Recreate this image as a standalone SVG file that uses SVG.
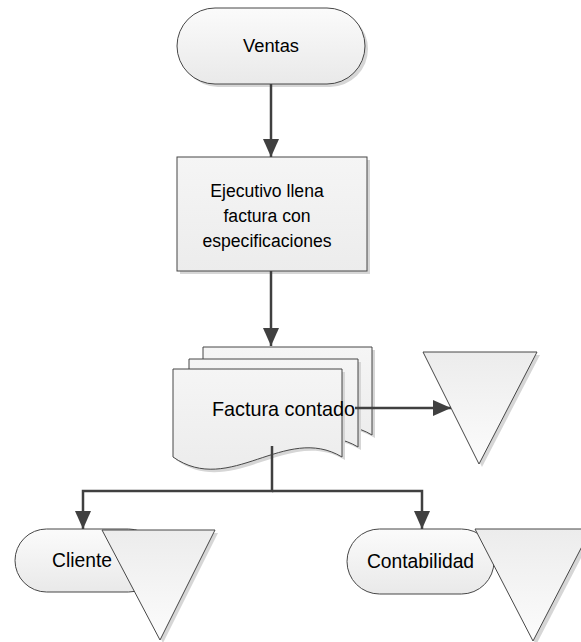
<svg xmlns="http://www.w3.org/2000/svg" width="581" height="642" viewBox="0 0 581 642">
  <defs>
    <linearGradient id="gTerm" x1="0" y1="0" x2="0" y2="1">
      <stop offset="0" stop-color="#fbfbfb"/>
      <stop offset="1" stop-color="#e9e9e9"/>
    </linearGradient>
    <linearGradient id="gTri" x1="0" y1="0" x2="0" y2="1">
      <stop offset="0" stop-color="#ececec"/>
      <stop offset="1" stop-color="#fcfcfc"/>
    </linearGradient>
    <linearGradient id="gBox" x1="0" y1="0" x2="0" y2="1">
      <stop offset="0" stop-color="#f5f5f5"/>
      <stop offset="1" stop-color="#ececec"/>
    </linearGradient>
    <marker id="arrow" viewBox="0 0 18 16" refX="18" refY="8" markerWidth="18" markerHeight="16" markerUnits="userSpaceOnUse" orient="auto">
      <path d="M0,0 L18,8 L0,16 Z" fill="#404040"/>
    </marker>
    <path id="page" d="M0,0 H169 V88 C112,54 57,128 0,88 Z"/>
  </defs>
  <style>
    .shape { stroke: #474747; stroke-width: 1; }
    .shadow { fill: #d6d6d6; stroke: none; }
    .label { font-family: "Liberation Sans", Arial, sans-serif; fill: #000; text-anchor: middle; }
    .conn { fill: none; stroke: #404040; stroke-width: 2.5; }
  </style>

  <!-- Start terminator -->
  <g id="ventas">
    <rect class="shadow" x="180" y="11" width="188" height="76" rx="38"/>
    <rect class="shape" fill="url(#gTerm)" x="177" y="8" width="188" height="76" rx="38"/>
    <text class="label" style="font-size:18.3px" x="271" y="52">Ventas</text>
  </g>

  <!-- Process step -->
  <g id="ejecutivo">
    <rect class="shadow" x="180" y="160" width="190" height="114"/>
    <rect class="shape" fill="url(#gBox)" x="177" y="157" width="190" height="114"/>
    <text class="label" style="font-size:17.6px" x="267" y="197">Ejecutivo llena</text>
    <text class="label" style="font-size:17.6px" x="267" y="222">factura con</text>
    <text class="label" style="font-size:17.6px" x="267" y="247">especificaciones</text>
  </g>

  <!-- Multi-page document -->
  <g id="factura">
    <use href="#page" class="shadow" transform="translate(206,350)"/>
    <use href="#page" class="shape" fill="url(#gBox)" transform="translate(203,347)"/>
    <use href="#page" class="shadow" transform="translate(192,362)"/>
    <use href="#page" class="shape" fill="url(#gBox)" transform="translate(189,359)"/>
    <use href="#page" class="shadow" transform="translate(176,372)"/>
    <use href="#page" class="shape" fill="url(#gBox)" transform="translate(173,369)"/>
    <text class="label" style="font-size:19.8px" x="283.5" y="416">Factura contado</text>
  </g>

  <!-- Off-page storage beside the document -->
  <g id="archivo">
    <polygon class="shadow" points="426,355 540,355 482,467"/>
    <polygon class="shape" fill="url(#gTri)" points="423,352 537,352 479,464"/>
  </g>

  <!-- Customer terminator with storage -->
  <g id="cliente">
    <rect class="shape" fill="url(#gTerm)" x="15" y="529" width="145" height="63" rx="31.5"/>
    <text class="label" style="font-size:19.3px" x="82" y="567">Cliente</text>
    <polygon class="shadow" points="105,533 218,533 163,643"/>
    <polygon class="shape" fill="url(#gTri)" points="102,530 215,530 160,640"/>
  </g>

  <!-- Accounting terminator with storage -->
  <g id="contabilidad">
    <rect class="shape" fill="url(#gTerm)" x="347" y="529" width="147" height="65" rx="32.5"/>
    <text class="label" style="font-size:19.3px" x="420.5" y="568">Contabilidad</text>
    <polygon class="shadow" points="478,533 594,533 536,645"/>
    <polygon class="shape" fill="url(#gTri)" points="475,529 591,529 533,641"/>
  </g>

  <!-- Connectors -->
  <g id="connectors">
    <path class="conn" d="M271,84 V157" marker-end="url(#arrow)"/>
    <path class="conn" d="M271,271 V346" marker-end="url(#arrow)"/>
    <path class="conn" d="M355,408 H451" marker-end="url(#arrow)"/>
    <path class="conn" d="M272,446 V491 H83 V529" marker-end="url(#arrow)"/>
    <path class="conn" d="M272,491 H422 V529" marker-end="url(#arrow)"/>
  </g>
</svg>
